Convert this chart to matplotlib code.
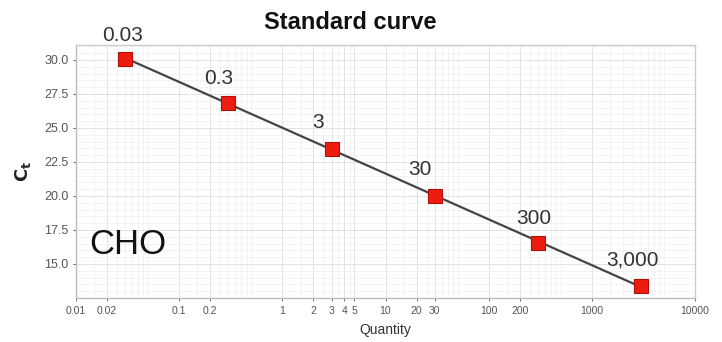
import numpy as np
import matplotlib
matplotlib.use("Agg")
import matplotlib.pyplot as plt
from matplotlib.ticker import FixedLocator, LogLocator, MultipleLocator, NullFormatter

plt.rcParams['font.family'] = ['Liberation Sans', 'DejaVu Sans']

# данные стандартной кривой
quantity = [0.03, 0.3, 3, 30, 300, 3000]
ct = [30.1, 26.85, 23.45, 20.0, 16.55, 13.4]
point_labels = ["0.03", "0.3", "3", "30", "300", "3,000"]

x_ticks = [0.01, 0.02, 0.1, 0.2, 1, 2, 3, 4, 5, 10, 20, 30, 100, 200, 1000, 10000]
x_tick_labels = ["0.01", "0.02", "0.1", "0.2", "1", "2", "3", "4", "5", "10", "20", "30",
                 "100", "200", "1000", "10000"]
y_ticks = [15.0, 17.5, 20.0, 22.5, 25.0, 27.5, 30.0]

fig = plt.figure(figsize=(7.22, 3.42), dpi=100)
ax = fig.add_axes([0.1053, 0.1287, 0.8573, 0.7397])

# линия регрессии
k, b = np.polyfit(np.log10(quantity), ct, 1)
xs = np.array([quantity[0], quantity[-1]])
ax.plot(xs, k * np.log10(xs) + b, color="#444444", lw=1.6, zorder=3)
ax.plot(quantity, ct, "s", color="#ee1c10", markeredgecolor="#b01008",
        markersize=9.5, markeredgewidth=0.8, zorder=4)

label_offsets = [(-2, 10), (-7, 11), (-10, 12), (-11, 12), (-3, 11), (-6, 12)]
for q, c, t, off in zip(quantity, ct, point_labels, label_offsets):
    ax.annotate(t, (q, c), xytext=off, textcoords="offset points",
                ha="center", va="bottom", fontsize=15, color="#333333")

ax.set_xscale("log")
ax.set_xlim(0.01, 10000)
ax.set_ylim(12.5, 31.1)

ax.xaxis.set_major_locator(FixedLocator(x_ticks))
ax.set_xticklabels(x_tick_labels)
ax.xaxis.set_minor_locator(LogLocator(base=10, subs=np.arange(1, 10) * 0.5, numticks=100))
ax.xaxis.set_minor_formatter(NullFormatter())
ax.set_yticks(y_ticks)
ax.set_yticklabels([f"{v:.1f}" for v in y_ticks])
ax.yaxis.set_minor_locator(MultipleLocator(0.5))

ax.tick_params(axis="x", which="major", labelsize=7.5, colors="#555555", length=2, width=0.6)
ax.tick_params(axis="y", which="major", labelsize=9, colors="#555555", length=2, width=0.6)
ax.tick_params(axis="both", which="minor", length=0)

ax.grid(True, which="major", color="#dddddd", lw=0.6)
ax.grid(True, which="minor", color="#eeeeee", lw=0.5)
ax.set_axisbelow(True)

for s in ax.spines.values():
    s.set_color("#cccccc")
    s.set_linewidth(1.0)
ax.spines["left"].set_color("#bbbbbb")
ax.spines["bottom"].set_color("#bbbbbb")

ax.set_xlabel("Quantity", fontsize=10, color="#333333", labelpad=5)
ax.set_ylabel(r"$\mathbf{C_t}$", fontsize=13, color="#222222", labelpad=8)
fig.text(0.485, 0.933, "Standard curve", ha="center", va="center",
         fontsize=17, fontweight="bold", color="#111111")

ax.text(0.022, 0.21, "CHO", transform=ax.transAxes, fontsize=25,
        color="#111111", ha="left", va="center")

fig.savefig("out.png", dpi=100)
